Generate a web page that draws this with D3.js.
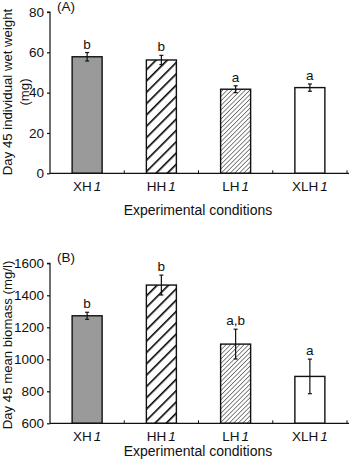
<!DOCTYPE html>
<html><head><meta charset="utf-8">
<script src="https://cdn.jsdelivr.net/npm/d3@7"></script>
<style>
body{margin:0;background:#fff;}
svg text{font-family:"Liberation Sans",Arial,Helvetica,sans-serif;fill:#111;}
</style></head>
<body>
<svg id="c" width="350" height="459"></svg>
<script>
const categories = ["XH", "HH", "LH", "XLH"];
const fills = ["solid", "hatchWide", "hatchFine", "none"];
// Panel A: Day 45 individual wet weight (mg)
const weightMean = [57.8, 56.2, 41.7, 42.5];
const weightErr = [2.1, 2.3, 1.7, 1.8];
const weightLetters = ["b", "b", "a", "a"];
const weightTicks = [0, 20, 40, 60, 80];
// Panel B: Day 45 mean biomass (mg/l)
const biomassMean = [1272, 1464, 1095, 893];
const biomassErr = [22, 62, 93, 108];
const biomassLetters = ["b", "b", "a,b", "a"];
const biomassTicks = [600, 800, 1000, 1200, 1400, 1600];

const FS = 13.5;
const svg = d3.select("#c");
const defs = svg.append("defs");
const pw = defs.append("pattern").attr("id","hatchWide").attr("patternUnits","userSpaceOnUse")
  .attr("width",8).attr("height",8).attr("patternTransform","rotate(45)");
pw.append("rect").attr("width",8).attr("height",8).attr("fill","#fff");
pw.append("line").attr("x1",0).attr("y1",0).attr("x2",0).attr("y2",8).attr("stroke","#000").attr("stroke-width",3.2);
const pf = defs.append("pattern").attr("id","hatchFine").attr("patternUnits","userSpaceOnUse")
  .attr("width",3.2).attr("height",3.2).attr("patternTransform","rotate(45)");
pf.append("rect").attr("width",3.2).attr("height",3.2).attr("fill","#fff");
pf.append("line").attr("x1",0).attr("y1",0).attr("x2",0).attr("y2",3.2).attr("stroke","#444").attr("stroke-width",1.3);

function fillOf(k){
  if(k==="solid") return "#9a9a9a";
  if(k==="none") return "#fff";
  return "url(#"+k+")";
}

function panel(cfg){
  const g = svg.append("g");
  const x = d3.scaleBand().domain(categories).range([50, 347]).paddingInner(0).paddingOuter(0);
  const y = d3.scaleLinear().domain(cfg.domain).range([cfg.bottom, cfg.top]);
  const bw = 30;
  g.selectAll("rect.bar").data(categories).join("rect")
    .attr("x", d => x(d) + x.bandwidth()/2 - bw/2)
    .attr("y", (d,i) => y(cfg.mean[i]))
    .attr("width", bw)
    .attr("height", (d,i) => y(cfg.domain[0]) - y(cfg.mean[i]))
    .attr("fill", (d,i) => fillOf(fills[i]))
    .attr("stroke", "#111").attr("stroke-width", 1.4);
  categories.forEach((c,i) => {
    const cx = x(c) + x.bandwidth()/2;
    const y1 = y(cfg.mean[i] + cfg.err[i]), y2 = y(cfg.mean[i] - cfg.err[i]);
    g.append("line").attr("x1",cx).attr("x2",cx).attr("y1",y1).attr("y2",y2).attr("stroke","#111").attr("stroke-width",1.2);
    [y1,y2].forEach(yy => g.append("line").attr("x1",cx-2).attr("x2",cx+2).attr("y1",yy).attr("y2",yy).attr("stroke","#111").attr("stroke-width",1.2));
    g.append("text").attr("x",cx).attr("y",y1-4).attr("text-anchor","middle").attr("font-size",FS).text(cfg.letters[i]);
  });
  const ya = g.append("g").attr("transform","translate(50,0)")
    .call(d3.axisLeft(y).tickValues(cfg.ticks).tickSize(3).tickPadding(3).tickFormat(d3.format("d")));
  ya.select(".domain").attr("d", `M-3,${y(cfg.domain[1])}H0V${y(cfg.domain[0])}`).attr("stroke","#111").attr("stroke-width",1.2);
  ya.selectAll(".tick line").attr("stroke","#111").attr("stroke-width",1.2);
  ya.selectAll(".tick text").attr("font-size",FS).attr("font-family","Liberation Sans, Arial, sans-serif").attr("fill","#111");
  const xb = y(cfg.domain[0]);
  g.append("line").attr("x1",50).attr("x2",349).attr("y1",xb).attr("y2",xb).attr("stroke","#111").attr("stroke-width",1.2);
  categories.forEach(c => {
    const bx = x(c) + x.bandwidth();
    g.append("line").attr("x1",bx).attr("x2",bx).attr("y1",xb).attr("y2",xb-3).attr("stroke","#111").attr("stroke-width",1);
    const t = g.append("text").attr("x", x(c)+x.bandwidth()/2).attr("y", xb+17.5).attr("text-anchor","middle").attr("font-size",FS);
    t.append("tspan").text(c);
    t.append("tspan").attr("font-style","italic").attr("dx",2).text("1");
  });
  g.append("text").attr("x",198).attr("y",cfg.xTitleY).attr("text-anchor","middle").attr("font-size",14).text("Experimental conditions");
  g.append("text").attr("x",57).attr("y",cfg.top-1).attr("font-size",FS).text(cfg.label);
  const cy = cfg.yTitleCy;
  cfg.yTitle.forEach((line,k) => {
    g.append("text").attr("transform",`translate(${cfg.yTitleX[k]},${cy}) rotate(-90)`)
      .attr("text-anchor","middle").attr("font-size",13.2).text(line);
  });
}

panel({domain:[0,80], top:12, bottom:173.3, mean:weightMean, err:weightErr, letters:weightLetters, ticks:weightTicks,
  label:"(A)", xTitleY:215, yTitle:["Day 45 individual wet weight","(mg)"], yTitleX:[12,29], yTitleCy:92});
panel({domain:[600,1600], top:263.3, bottom:423.3, mean:biomassMean, err:biomassErr, letters:biomassLetters, ticks:biomassTicks,
  label:"(B)", xTitleY:456, yTitle:["Day 45 mean biomass (mg/l)"], yTitleX:[12], yTitleCy:345});
</script>
</body></html>
